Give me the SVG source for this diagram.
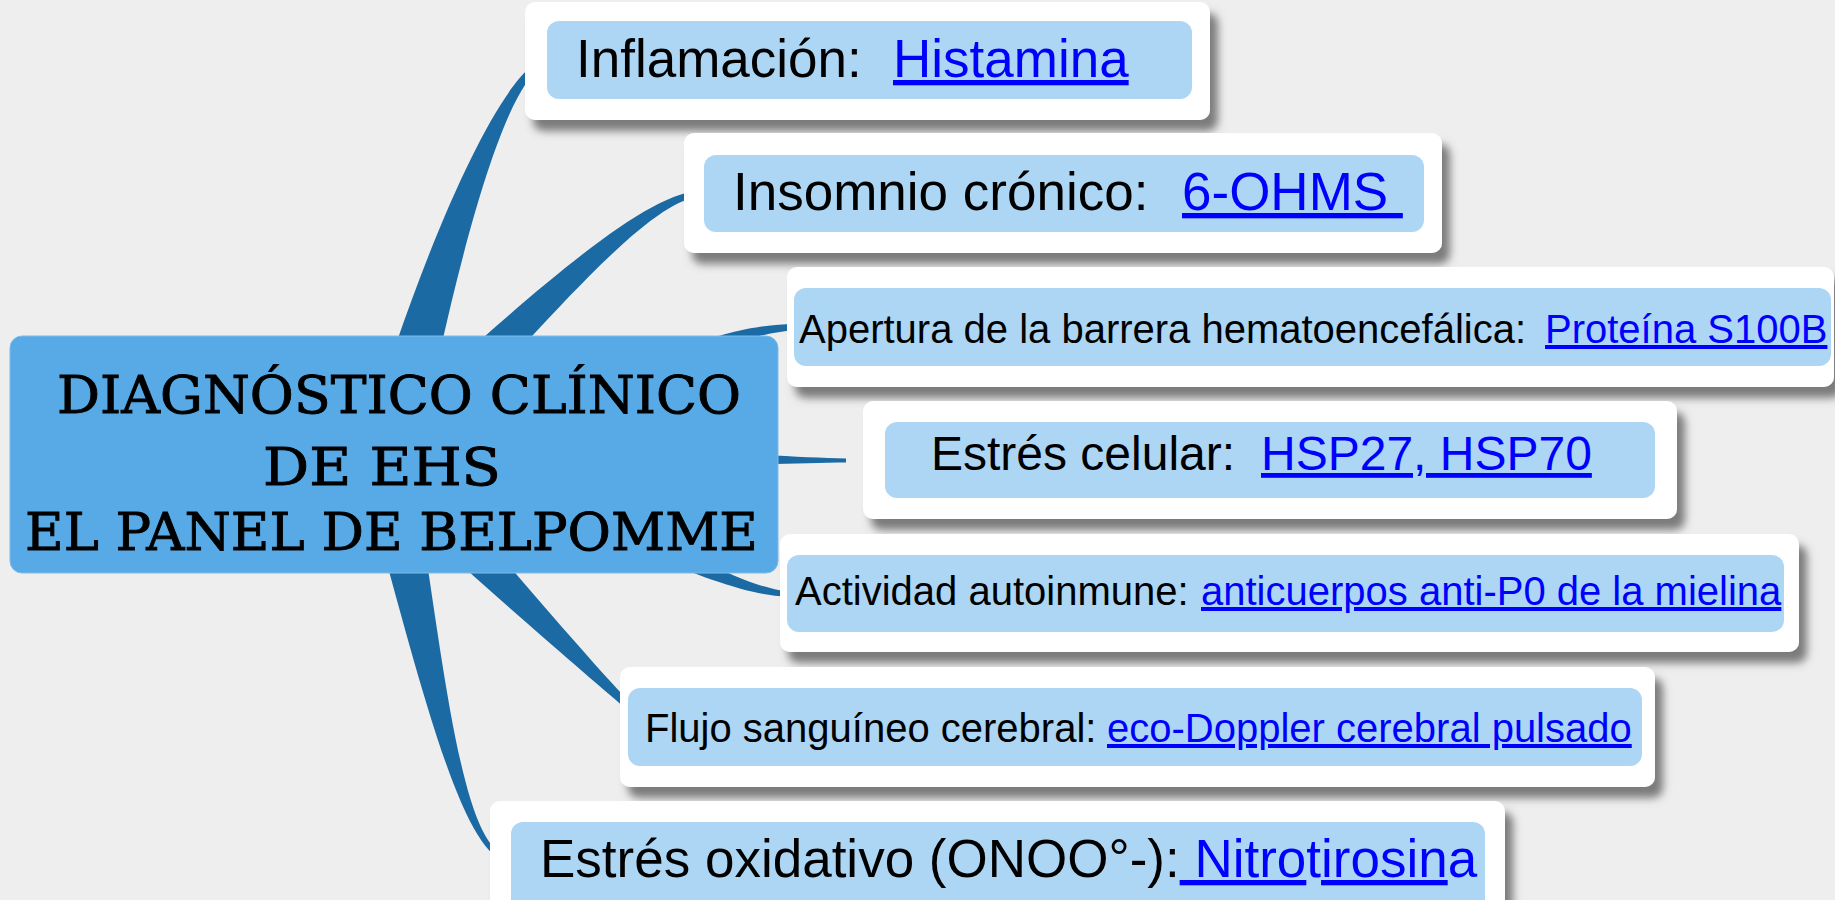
<svg xmlns="http://www.w3.org/2000/svg" width="1835" height="900" viewBox="0 0 1835 900">
<defs>
<filter id="sh" x="-10%" y="-20%" width="125%" height="150%">
<feDropShadow dx="8" dy="11" stdDeviation="4" flood-color="#5f5f5f" flood-opacity="0.8"/>
</filter>
<style>
.outer{fill:#ffffff;filter:url(#sh)}
.inner{fill:#acd6f4}
.t{font-family:"Liberation Sans",Arial,sans-serif;fill:#000000;white-space:pre}
.lk{fill:#0000ff;text-decoration:underline}
.nl{fill:#0000ff;text-decoration:none}
.br{fill:#1b6aa3}
.ct{font-family:"DejaVu Serif","Liberation Serif",serif;font-size:53px;fill:#000000;stroke:#000000;stroke-width:0.9}
</style>
</defs>
<rect x="0" y="0" width="1835" height="900" fill="#eeeeee"/>
<g id="connectors">
<path class="br" d="M417.2,461.6 C457.5,254.3 506.3,75.9 547.5,63.4 L546.5,58.6 C503.7,64.1 422.5,245.7 362.8,448.4 Z"/>
<path class="br" d="M417,462 C569.9,294.9 650.2,200 704,195.5 L704,190.5 C649.8,190 550.1,275.1 383,428 Z"/>
<path class="br" d="M566.9,432.2 C704,346.9 750.3,335 794,330 L794,324 C749.7,325 696,333.1 553.1,407.8 Z"/>
<path class="br" d="M600,444 C700,451 790,457 846,458.5 L846,462.5 C790,463 700,467 600,466 Z"/>
<path class="br" d="M553.7,512.5 C676,568 739.6,595 787,596.5 L787,591.5 C740.4,585 684,552 566.3,487.5 Z"/>
<path class="br" d="M366.1,477.9 C466.9,572.4 575.2,665.1 626.5,709 L631,703.5 C584.8,654.9 493.1,547.6 403.9,442.1 Z"/>
<path class="br" d="M359.6,465.7 C416.3,663.1 460,864 512,862.5 L512,857.5 C460,856 443.7,656.9 410.4,454.3 Z"/>
</g>
<g id="center">
<rect x="10" y="336" width="768" height="237" rx="12" fill="#58aae6" stroke="#7ebbe9" stroke-width="1"/>
<text class="ct" x="57" y="413" textLength="684" lengthAdjust="spacingAndGlyphs">DIAGNÓSTICO CLÍNICO</text>
<text class="ct" x="263" y="485" textLength="238" lengthAdjust="spacingAndGlyphs">DE EHS</text>
<text class="ct" x="25" y="550" textLength="733" lengthAdjust="spacingAndGlyphs">EL PANEL DE BELPOMME</text>
</g>
<g id="node-inflamacion">
<rect class="outer" x="525" y="2" width="685" height="118" rx="10"/>
<rect class="inner" x="547" y="21" width="645" height="78" rx="12"/>
<text class="t" font-size="53" y="77"><tspan x="576">Inflamación:</tspan><tspan class="lk" x="893">Histamina</tspan></text>
</g>
<g id="node-insomnio">
<rect class="outer" x="684" y="133" width="758" height="120" rx="10"/>
<rect class="inner" x="704" y="155" width="720" height="77" rx="12"/>
<text class="t" font-size="53" y="210"><tspan x="733">Insomnio crónico:</tspan><tspan class="lk" x="1182">6-OHMS </tspan></text>
</g>
<g id="node-apertura">
<rect class="outer" x="787" y="267" width="1047" height="120" rx="10"/>
<rect class="inner" x="794" y="288" width="1037" height="78" rx="12"/>
<text class="t" font-size="40" y="343"><tspan x="799">Apertura de la barrera hematoencefálica:</tspan><tspan class="lk" x="1545">Proteína S100B</tspan></text>
</g>
<g id="node-estres-celular">
<rect class="outer" x="863" y="401" width="814" height="118" rx="10"/>
<rect class="inner" x="885" y="422" width="770" height="76" rx="12"/>
<text class="t" font-size="48" y="470"><tspan x="931">Estrés celular:</tspan><tspan class="lk" x="1261">HSP27, HSP70</tspan></text>
</g>
<g id="node-autoinmune">
<rect class="outer" x="780" y="534" width="1019" height="118" rx="10"/>
<rect class="inner" x="787" y="555" width="997" height="77" rx="12"/>
<text class="t" font-size="40" y="605"><tspan x="795">Actividad autoinmune:</tspan><tspan class="lk" x="1201">anticuerpos anti-P0 de la mielina</tspan></text>
</g>
<g id="node-flujo">
<rect class="outer" x="620" y="667" width="1035" height="120" rx="10"/>
<rect class="inner" x="628" y="688" width="1014" height="78" rx="12"/>
<text class="t" font-size="40" y="742"><tspan x="645">Flujo sanguíneo cerebral:</tspan><tspan class="lk" x="1107">eco-Doppler cerebral pulsado</tspan></text>
</g>
<g id="node-oxidativo">
<rect class="outer" x="490" y="801" width="1015" height="115" rx="10"/>
<rect class="inner" x="511" y="822" width="974" height="90" rx="12"/>
<text class="t" font-size="53" y="877"><tspan x="540">Estrés oxidativo (ONOO°-):</tspan><tspan class="lk"> Nitro</tspan><tspan class="nl">t</tspan><tspan class="lk">irosin</tspan><tspan class="nl">a</tspan></text>
</g>
</svg>
